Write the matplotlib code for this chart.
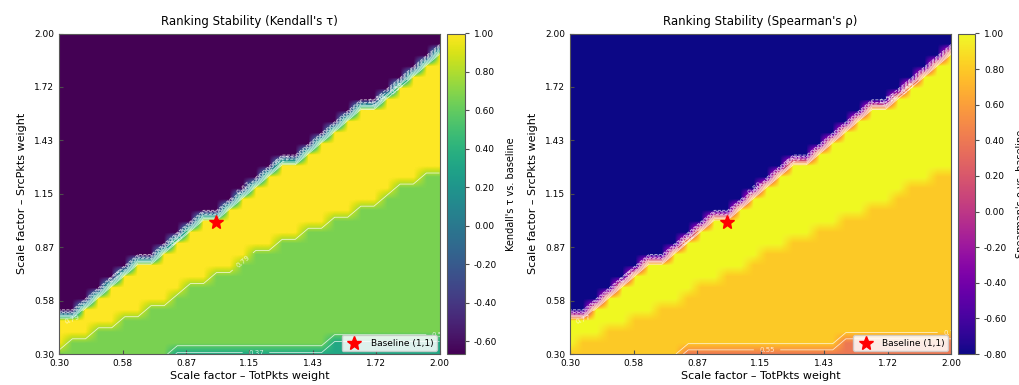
import numpy as np
import matplotlib
matplotlib.use("Agg")
import matplotlib.pyplot as plt

# ---------------- data ----------------
grid_points = 30                      # grid resolution in each direction
axis_min, axis_max = 0.30, 2.00
tick_labels = ["0.30", "0.58", "0.87", "1.15", "1.43", "1.72", "2.00"]

# per TotPkts column: number of SrcPkts rows (from bottom) that are NOT fully reversed
rows_not_reversed = [4, 4, 5, 6, 7, 8, 9, 9, 10, 11, 12, 13, 13, 14, 15,
                     16, 17, 18, 18, 19, 20, 21, 22, 23, 23, 24, 25, 26, 27, 28]
# per column: number of rows below the "identical ranking" band
rows_below_identical = [1, 2, 2, 3, 3, 4, 4, 5, 5, 6, 7, 7, 8, 8, 9,
                        10, 10, 11, 11, 12, 12, 13, 13, 14, 14, 15, 16, 16, 17, 17]
# per column: number of rows in the bottom "two swaps" strip
rows_two_swaps = [0, 0, 0, 0, 0, 0, 0, 0, 0, 1, 1, 1, 1, 1, 1,
                  1, 1, 1, 1, 1, 1, 2, 2, 2, 2, 2, 2, 2, 2, 2]

# correlation value of each ranking regime
kendall_reversed, kendall_identical, kendall_one_swap, kendall_two_swaps = -2 / 3, 1.0, 2 / 3, 1 / 3
spearman_reversed, spearman_identical, spearman_one_swap, spearman_two_swaps = -0.8, 1.0, 0.8, 0.4

baseline_x, baseline_y = [1.0], [1.0]


def build_grid(v_rev, v_id, v_one, v_two):
    z = np.full((grid_points, grid_points), v_rev)
    for i in range(grid_points):
        z[:rows_not_reversed[i], i] = v_id
        z[:rows_below_identical[i], i] = v_one
        z[:rows_two_swaps[i], i] = v_two
    return z


grid_vals = np.linspace(axis_min, axis_max, grid_points)
step = grid_vals[1] - grid_vals[0]
X, Y = np.meshgrid(grid_vals, grid_vals)
Z_tau = build_grid(kendall_reversed, kendall_identical, kendall_one_swap, kendall_two_swaps)
Z_rho = build_grid(spearman_reversed, spearman_identical, spearman_one_swap, spearman_two_swaps)
extent = [axis_min - step / 2, axis_max + step / 2, axis_min - step / 2, axis_max + step / 2]

# ---------------- figure ----------------
fig = plt.figure(figsize=(10.19, 3.85), dpi=100)
W, H = 1019, 385


def rect(x0, y0, x1, y1):
    return [x0 / W, 1 - y1 / H, (x1 - x0) / W, (y1 - y0) / H]


panels = [
    dict(z=Z_tau, cmap="viridis", title="Ranking Stability (Kendall's τ)",
         cbar_label="Kendall's τ vs. baseline",
         cticks=[-0.6, -0.4, -0.2, 0.0, 0.2, 0.4, 0.6, 0.8, 1.0],
         ax_rect=rect(59.3, 33.5, 439.5, 354), cb_rect=rect(447, 33.5, 465, 354)),
    dict(z=Z_rho, cmap="plasma", title="Ranking Stability (Spearman's ρ)",
         cbar_label="Spearman's ρ vs. baseline",
         cticks=[-0.8, -0.6, -0.4, -0.2, 0.0, 0.2, 0.4, 0.6, 0.8, 1.0],
         ax_rect=rect(570, 33.5, 951, 354), cb_rect=rect(958, 33.5, 975, 354)),
]

tick_pos = np.linspace(axis_min, axis_max, len(tick_labels))

for p in panels:
    ax = fig.add_axes(p["ax_rect"])
    cax = fig.add_axes(p["cb_rect"])
    z = p["z"]
    zmin, zmax = z.min(), z.max()
    im = ax.imshow(z, origin="lower", extent=extent, aspect="auto", cmap=p["cmap"],
                   interpolation="bilinear", vmin=zmin, vmax=zmax)
    cs = ax.contour(X, Y, z, levels=np.linspace(zmin, zmax, 9), colors="white",
                    linewidths=0.6, alpha=0.75)
    ax.clabel(cs, inline=True, fontsize=5, fmt="%.2f")
    ax.plot(baseline_x, baseline_y, linestyle="none", marker="*", color="red",
            markersize=10, label="Baseline (1,1)")
    ax.set_xlim(axis_min, axis_max)
    ax.set_ylim(axis_min, axis_max)
    ax.set_xticks(tick_pos)
    ax.set_xticklabels(tick_labels)
    ax.set_yticks(tick_pos)
    ax.set_yticklabels(tick_labels)
    ax.tick_params(direction="in", length=3, labelsize=6.5, color="0.3")
    for s in ax.spines.values():
        s.set_color("0.35")
    ax.set_title(p["title"], fontsize=8.5, pad=6)
    ax.set_xlabel("Scale factor – TotPkts weight", fontsize=8, labelpad=2)
    ax.set_ylabel("Scale factor – SrcPkts weight", fontsize=8, labelpad=5)
    ax.legend(loc="lower right", fontsize=6.5, framealpha=0.85,
              borderpad=0.4, handletextpad=0.8, borderaxespad=0.3)

    cb = fig.colorbar(im, cax=cax, ticks=p["cticks"], format="%.2f")
    cb.ax.tick_params(labelsize=6.5, length=3, color="0.3")
    cb.outline.set_edgecolor("0.35")
    cb.set_label(p["cbar_label"], fontsize=7, labelpad=6)

fig.savefig("out.png", dpi=100)
